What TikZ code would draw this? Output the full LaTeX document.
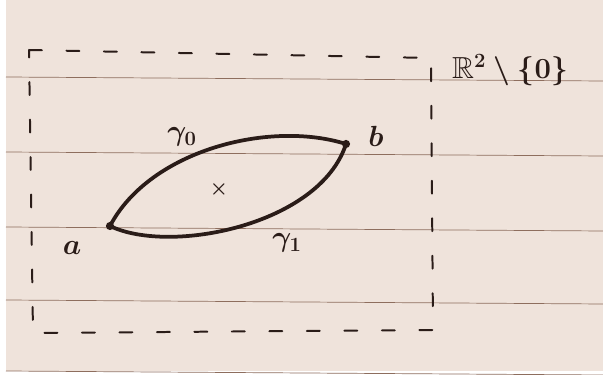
\documentclass[tikz,border=0pt]{standalone}
\usepackage{amsmath,amssymb}
\usetikzlibrary{positioning}
\definecolor{paper}{HTML}{EFE3DB}
\definecolor{rule}{HTML}{8E6E5E}
\definecolor{ink}{HTML}{2A1C18}
\begin{document}
\begin{tikzpicture}[x=0.03cm,y=-0.03cm,
  pathline/.style={ink, line width=3.2pt, line cap=round},
  region/.style={ink, line width=1.7pt, dash pattern=on 11pt off 21pt, line cap=round},
  dot/.style={circle, fill=ink, inner sep=0pt, minimum size=7pt},
  lbl/.style={text=ink, font=\fontsize{26}{28}\selectfont}]
  \useasboundingbox (0,0) rectangle (603,375);
  \fill[white] (0,0) rectangle (603,375);
  \fill[paper] (6,0) rectangle (603,371);
  \foreach \y in {77,152,227,300,371} {\draw[rule, line width=0.6pt] (6,\y) -- (603,\y+4);}
  % region
  \draw[region] (29,50) -- (431,58) -- (433,330) -- (33,333) -- cycle;
  \node[lbl] (space) at (510,70) {$\boldsymbol{\mathbb{R}^2\setminus\{0\}}$};
  % end points and the two paths
  \node[dot] (a) at (110,226) {};
  \node[dot] (b) at (346,144) {};
  \node[lbl] (la) at (72,248) {$\boldsymbol{a}$};
  \node[lbl] (lb) at (376,136) {$\boldsymbol{b}$};
  \draw[pathline] (a.center) .. controls (150,150) and (270,120) .. (b.center);
  \draw[pathline] (a.center) .. controls (170,255) and (320,225) .. (b.center);
  \node[lbl] (g0) at (182,137) {$\boldsymbol{\gamma_0}$};
  \node[lbl] (g1) at (287,243) {$\boldsymbol{\gamma_1}$};
  \node[lbl, font=\fontsize{17}{18}\selectfont] (hole) at (219,189) {$\boldsymbol{\times}$};
\end{tikzpicture}
\end{document}
